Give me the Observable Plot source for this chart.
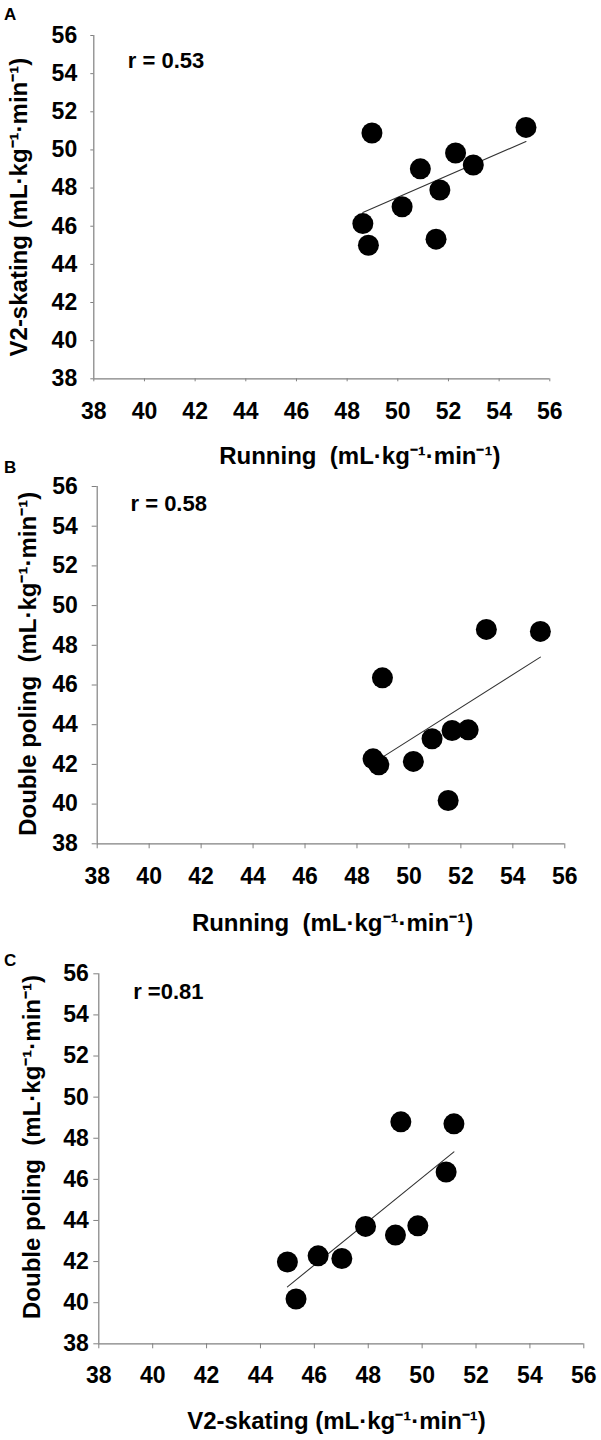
<!DOCTYPE html>
<html>
<head>
<meta charset="utf-8">
<script src="https://cdn.jsdelivr.net/npm/d3@7"></script>
<script src="https://cdn.jsdelivr.net/npm/@observablehq/plot@0.6"></script>
<style>
  html, body { margin: 0; padding: 0; background: #fff; }
  #wrap { position: relative; width: 601px; height: 1440px; font-family: "Liberation Sans", Arial, sans-serif; }
  .panel { position: absolute; left: 0; }
  .letter { position: absolute; left: 4px; font-weight: bold; font-size: 17px; line-height: 1; color: #000; }
</style>
</head>
<body>
<div id="wrap"></div>
<script>
// ---- data (one value per athlete) ----
const running      = [48.98, 55.06, 52.28, 52.98, 50.89, 51.66, 50.17, 48.62, 48.84, 51.51];
const v2skating    = [50.89, 51.18, 49.84, 49.21, 49.01, 47.90, 47.02, 46.14, 45.00, 45.32];
const doublePoling = [46.36, 48.70, 43.74, 48.80, 43.29, 43.71, 42.15, 42.28, 41.98, 40.18];
const axisTicks    = [38, 40, 42, 44, 46, 48, 50, 52, 54, 56];
const panelLetters = ["A", "B", "C"];
const rLabels      = ["r = 0.53", "r = 0.58", "r =0.81"];
const unit = "(mL\u00B7kg\u207B\u00B9\u00B7min\u207B\u00B9)";
const xTitles = ["Running\u00A0\u00A0" + unit, "Running\u00A0\u00A0" + unit, "V2-skating " + unit];
const yTitles = ["V2-skating " + unit, "Double poling\u00A0\u00A0" + unit, "Double poling\u00A0\u00A0" + unit];

// ---- layout (styles only) ----
const FONT = "'Liberation Sans', Arial, sans-serif";
const AXIS = "#808080";
const TICKFONT = 23;
const layout = [
  {top: 0,   h: 470, ml: 93.3, mr: 51.7, mt: 35,   mb: 91.7, yTick: 3, yPad: 13.6, xTick: 3, xPad: 20.5,
   r: [34, 25], xt: [38, 85], yt: [-74.3, 0], letterTop: 6},
  {top: 470, h: 470, ml: 96.7, mr: 36.7, mt: 16,   mb: 96.7, yTick: 5, yPad: 14.4, xTick: 5, xPad: 18.5,
   r: [33.3, 17.3], xt: [1.5, 87.5], yt: [-68.4, -1.3], letterTop: 459},
  {top: 940, h: 500, ml: 98.3, mr: 17.7, mt: 33.3, mb: 96.7, yTick: 5, yPad: 5,    xTick: 5, xPad: 17.5,
   r: [34.4, 18.4], xt: [-4.8, 85], yt: [-66.3, -11.8], letterTop: 952}
];
const series = [[running, v2skating], [running, doublePoling], [v2skating, doublePoling]];

const wrap = document.getElementById("wrap");

series.forEach(([xs, ys], i) => {
  const L = layout[i];
  const data = xs.map((x, k) => ({x, y: ys[k]}));
  const chart = Plot.plot({
    width: 601,
    height: L.h,
    marginLeft: L.ml, marginRight: L.mr, marginTop: L.mt, marginBottom: L.mb,
    style: {fontFamily: FONT, fontSize: TICKFONT + "px", fontWeight: "bold", color: "#000", background: "#fff", overflow: "visible"},
    x: {domain: [38, 56]},
    y: {domain: [38, 56]},
    marks: [
      Plot.axisX({ticks: axisTicks, tickSize: L.xTick, tickPadding: L.xPad, stroke: AXIS, fill: "#000",
                  label: null, fontSize: TICKFONT, fontWeight: "bold", tickFormat: d => String(d)}),
      Plot.axisY({ticks: axisTicks, tickSize: L.yTick, tickPadding: L.yPad, stroke: AXIS, fill: "#000",
                  label: null, fontSize: TICKFONT, fontWeight: "bold", tickFormat: d => String(d)}),
      Plot.ruleX([38], {stroke: AXIS, strokeWidth: 1.2}),
      Plot.ruleY([38], {stroke: AXIS, strokeWidth: 1.2}),
      Plot.linearRegressionY(data, {x: "x", y: "y", ci: 0, stroke: "#333", strokeWidth: 1.1}),
      Plot.dot(data, {x: "x", y: "y", r: 10.5, fill: "#000", stroke: null}),
      Plot.text([rLabels[i]], {text: d => d, frameAnchor: "top-left", dx: L.r[0], dy: L.r[1],
                  textAnchor: "start", lineAnchor: "middle", fontSize: 22, fontWeight: "bold", fill: "#000"}),
      Plot.text([xTitles[i]], {text: d => d, frameAnchor: "bottom", dx: L.xt[0], dy: L.xt[1],
                  textAnchor: "middle", lineAnchor: "bottom", fontSize: 24, fontWeight: "bold", fill: "#000"}),
      Plot.text([yTitles[i]], {text: d => d, frameAnchor: "left", rotate: -90, dx: L.yt[0], dy: L.yt[1],
                  textAnchor: "middle", lineAnchor: "middle", fontSize: 24, fontWeight: "bold", fill: "#000"})
    ]
  });
  chart.classList.add("panel");
  chart.style.top = L.top + "px";
  wrap.appendChild(chart);

  const letter = document.createElement("div");
  letter.className = "letter";
  letter.style.top = L.letterTop + "px";
  letter.textContent = panelLetters[i];
  wrap.appendChild(letter);
});
</script>
</body>
</html>
